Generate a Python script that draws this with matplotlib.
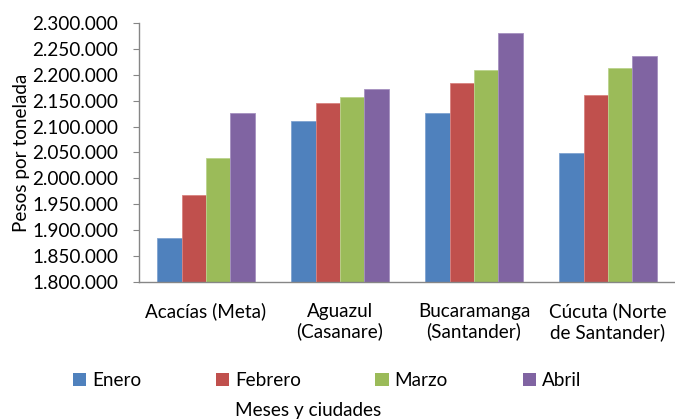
import matplotlib
matplotlib.use("Agg")
import matplotlib.pyplot as plt
from matplotlib.patches import Patch
from matplotlib.ticker import FuncFormatter, MultipleLocator
import numpy as np

# ---------- datos ----------
CIUDADES = ["Acacías (Meta)", "Aguazul\n(Casanare)", "Bucaramanga\n(Santander)", "Cúcuta (Norte\nde Santander)"]
MESES = ["Enero", "Febrero", "Marzo", "Abril"]
ENERO = [1885000, 2111000, 2126000, 2049000]
FEBRERO = [1968000, 2146000, 2184000, 2161000]
MARZO = [2040000, 2157000, 2210000, 2213000]
ABRIL = [2126000, 2172000, 2281000, 2236000]

COLORES = ["#4F81BD", "#C0504D", "#9BBB59", "#8064A2"]
BORDES = ["#7FA3D0", "#D9827F", "#BBD38C", "#A590C0"]
FS = 13.6

plt.rcParams.update({
    "font.family": ["Lato", "DejaVu Sans"],
    "font.size": FS,
})

fig = plt.figure(figsize=(6.75, 4.19), dpi=100)
ax = fig.add_axes([139 / 675, 1 - 281.7 / 419, 1 - 139 / 675, (281.7 - 23.3) / 419])

x = np.arange(len(CIUDADES))
ancho = 0.182
series = [ENERO, FEBRERO, MARZO, ABRIL]
for i, (vals, nombre) in enumerate(zip(series, MESES)):
    ax.bar(x + (i - 1.5) * ancho, vals, width=ancho, color=COLORES[i],
           edgecolor=BORDES[i], linewidth=0.6, label=nombre, zorder=2)

ax.set_xlim(-0.5, 3.5)
ax.set_ylim(1800000, 2300000)
ax.yaxis.set_major_locator(MultipleLocator(50000))
ax.yaxis.set_major_formatter(FuncFormatter(lambda v, _: f"{v:,.0f}".replace(",", ".")))

ax.set_xticks(x)
ax.set_xticklabels(CIUDADES, linespacing=1.2)
ax.tick_params(axis="x", length=0, pad=15)
ax.tick_params(axis="y", length=4, width=0.8, color="#868686", pad=11)

for lado in ("top", "right"):
    ax.spines[lado].set_visible(False)
for lado in ("left", "bottom"):
    ax.spines[lado].set_color("#868686")
    ax.spines[lado].set_linewidth(1.0)

ax.set_ylabel("Pesos por tonelada")
ax.yaxis.set_label_coords(-0.204, 0.5)

handles = [Patch(facecolor=c, edgecolor="none") for c in COLORES]
fig.legend(handles, MESES, loc="center left",
           bbox_to_anchor=(72.7 / 675, 1 - 380.7 / 419),
           ncol=4, frameon=False, borderpad=0, borderaxespad=0,
           handlelength=0.72, handleheight=0.72, handletextpad=0.3,
           columnspacing=3.95, fontsize=FS)

fig.text(308 / 675, 1 - 410 / 419, "Meses y ciudades", ha="center", va="center", fontsize=FS)

fig.savefig("out.png", dpi=100)
